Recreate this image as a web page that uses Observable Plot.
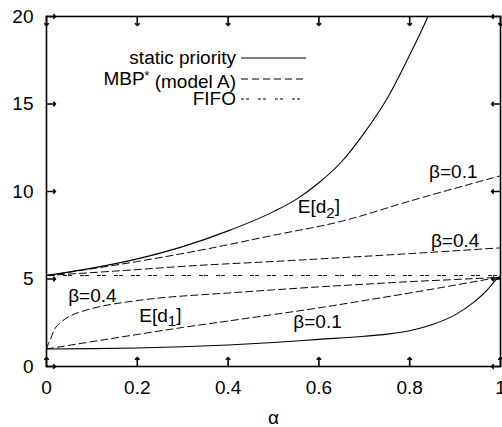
<!DOCTYPE html>
<html>
<head>
<meta charset="utf-8">
<script src="https://cdn.jsdelivr.net/npm/d3@7"></script>
<script src="https://cdn.jsdelivr.net/npm/@observablehq/plot@0.6"></script>
<style>
  html, body { margin: 0; padding: 0; background: #fff; }
  svg { font-family: "Liberation Sans", Arial, sans-serif; }
</style>
</head>
<body>
<div id="chart"></div>
<script>
// ---- data ----
const xTicks = [0, 0.2, 0.4, 0.6, 0.8, 1];
const yTicks = [0, 5, 10, 15, 20];
const xTickLabels = ["0", "0.2", "0.4", "0.6", "0.8", "1"];

// static priority, E[d2]
const alphaStaticD2 = [0, 0.1, 0.2, 0.3, 0.4, 0.5, 0.55, 0.6, 0.65, 0.7, 0.75, 0.8, 0.84, 0.87];
const staticD2 = [5.2, 5.62, 6.15, 6.85, 7.75, 8.85, 9.55, 10.5, 11.7, 13.35, 15.3, 17.8, 20.0, 22.0];
// static priority, E[d1]
const alphaStaticD1 = [0, 0.1, 0.2, 0.3, 0.4, 0.5, 0.6, 0.7, 0.75, 0.8, 0.85, 0.9, 0.94, 0.97, 0.99, 1.0];
const staticD1 = [1.0, 1.02, 1.06, 1.13, 1.23, 1.37, 1.55, 1.73, 1.85, 2.04, 2.4, 2.95, 3.65, 4.35, 4.95, 5.15];
// MBP* beta=0.1, E[d2]
const alphaMbp01D2 = [0, 0.2, 0.33, 0.5, 0.65, 0.8, 1.0];
const mbp01D2 = [5.2, 6.0, 6.6, 7.5, 8.3, 9.45, 10.9];
// MBP* beta=0.4, E[d2]
const alphaMbp04D2 = [0, 0.15, 0.33, 0.5, 0.65, 0.8, 1.0];
const mbp04D2 = [5.2, 5.45, 5.77, 6.0, 6.22, 6.45, 6.78];
// MBP* beta=0.4, E[d1]
const alphaMbp04D1 = [0, 0.004, 0.009, 0.016, 0.031, 0.053, 0.082, 0.126, 0.178, 0.25, 0.33, 0.4, 0.5, 0.6, 0.7, 0.8, 0.9, 1.0];
const mbp04D1 = [1.0, 1.3, 1.56, 2.04, 2.51, 2.9, 3.18, 3.47, 3.69, 3.92, 4.08, 4.2, 4.38, 4.55, 4.7, 4.85, 4.97, 5.1];
// MBP* beta=0.1, E[d1]
const alphaMbp01D1 = [0, 0.1, 0.2, 0.3, 0.4, 0.5, 0.6, 0.7, 0.8, 0.9, 1.0];
const mbp01D1 = [1.0, 1.42, 1.83, 2.23, 2.6, 2.97, 3.35, 3.77, 4.2, 4.65, 5.12];
// FIFO
const alphaFifo = [0, 1];
const fifo = [5.2, 5.2];

// annotations
const annotText = ["β=0.1", "β=0.4", "E[d_2]", "β=0.4", "E[d_1]", "β=0.1"];
const annotAlpha = [0.896, 0.90, 0.60, 0.101, 0.251, 0.597];
const annotValue = [11.1, 7.2, 9.1, 4.06, 2.9, 2.57];

// legend
const legendLabels = ["static priority", "MBP* (model A)", "FIFO"];

const toRows = (xs, ys) => xs.map((a, i) => ({alpha: a, value: ys[i]}));
const annots = annotText.map((t, i) => ({text: t, alpha: annotAlpha[i], value: annotValue[i]}));

const FS = 19;
const dashMbp = "7,4";
const dashFifo = "3,2,3,9";
const W = 502, H = 427, ML = 46, MR = 2, MT = 16, MB = 61;
const TICK = 9;
const innerW = W - ML - MR, innerH = H - MT - MB;

const lineOpts = (extra) => Object.assign({x: "alpha", y: "value", stroke: "#000", curve: "monotone-x"}, extra);

const plot = Plot.plot({
  width: W,
  height: H,
  marginLeft: ML,
  marginRight: MR,
  marginTop: MT,
  marginBottom: MB,
  style: {fontSize: FS + "px", fontFamily: "Liberation Sans, Arial, sans-serif", background: "#fff", overflow: "visible"},
  x: {domain: [0, 1]},
  y: {domain: [0, 20]},
  marks: [
    Plot.line(toRows(alphaStaticD2, staticD2), lineOpts({strokeWidth: 1.1, clip: true})),
    Plot.line(toRows(alphaStaticD1, staticD1), lineOpts({strokeWidth: 1.1})),
    Plot.line(toRows(alphaMbp01D2, mbp01D2), lineOpts({strokeWidth: 1, strokeDasharray: dashMbp})),
    Plot.line(toRows(alphaMbp04D2, mbp04D2), lineOpts({strokeWidth: 1, strokeDasharray: dashMbp})),
    Plot.line(toRows(alphaMbp04D1, mbp04D1), lineOpts({strokeWidth: 1, strokeDasharray: dashMbp})),
    Plot.line(toRows(alphaMbp01D1, mbp01D1), lineOpts({strokeWidth: 1, strokeDasharray: dashMbp})),
    Plot.line(toRows(alphaFifo, fifo), lineOpts({strokeWidth: 1, strokeDasharray: dashFifo, curve: "linear"})),
    Plot.text(annots, {x: "alpha", y: "value", text: "text", fontSize: FS, fill: "#000", lineAnchor: "middle", textAnchor: "middle", className: "annot"}),
    // tick labels
    Plot.axisX(xTicks, {anchor: "bottom", tickSize: 0, tickPadding: 14, tickFormat: (d, i) => xTickLabels[i], label: "α", labelAnchor: "center", labelOffset: 57, labelArrow: "none", fontSize: FS}),
    Plot.axisY(yTicks, {anchor: "left", tickSize: 0, tickPadding: 13, label: null, fontSize: FS}),
    Plot.frame({stroke: "#000", strokeWidth: 1.6}),
    // inward ticks: vectors anchored on the frame, pointing into the plot
    Plot.vector(xTicks, {x: d => d, frameAnchor: "bottom", length: TICK, rotate: 0, anchor: "start", stroke: "#000", strokeWidth: 1.6}),
    Plot.vector(xTicks, {x: d => d, frameAnchor: "top", length: TICK, rotate: 180, anchor: "start", stroke: "#000", strokeWidth: 1.6}),
    Plot.vector(yTicks, {y: d => d, frameAnchor: "left", length: TICK, rotate: 90, anchor: "start", stroke: "#000", strokeWidth: 1.6}),
    Plot.vector(yTicks, {y: d => d, frameAnchor: "right", length: TICK, rotate: -90, anchor: "start", stroke: "#000", strokeWidth: 1.6})
  ]
});

const svg = d3.select(plot);

// subscripts for E[d_n] annotations
svg.selectAll("g.annot text").each(function () {
  const t = d3.select(this);
  const s = t.text();
  const m = s.match(/^(.*)_(\d)(.*)$/);
  if (m) {
    t.text(null);
    t.append("tspan").text(m[1]);
    t.append("tspan").attr("dy", "0.3em").attr("font-size", (FS * 0.8) + "px").text(m[2]);
    t.append("tspan").attr("dy", "-0.3em").text(m[3]);
  }
});

// legend (drawn inside the plot, top)
const lg = svg.append("g").attr("class", "legend");
const legendDash = [null, dashMbp, dashFifo];
const rowY = [58, 79, 99];
legendLabels.forEach((lab, i) => {
  const t = lg.append("text")
    .attr("x", 236).attr("y", rowY[i]).attr("dy", "0.32em")
    .attr("text-anchor", "end").attr("font-size", FS + "px").attr("fill", "#000");
  if (lab.startsWith("MBP*")) {
    t.append("tspan").text("MBP");
    t.append("tspan").attr("dy", "-0.4em").attr("font-size", (FS * 0.65) + "px").text("*");
    t.append("tspan").attr("dy", "0.4em").text(lab.slice(4));
  } else {
    t.text(lab);
  }
  const l = lg.append("line")
    .attr("x1", 241).attr("x2", 306).attr("y1", rowY[i]).attr("y2", rowY[i])
    .attr("stroke", "#000").attr("stroke-width", 1);
  if (legendDash[i]) l.attr("stroke-dasharray", legendDash[i]);
});

document.getElementById("chart").appendChild(plot);
</script>
</body>
</html>
